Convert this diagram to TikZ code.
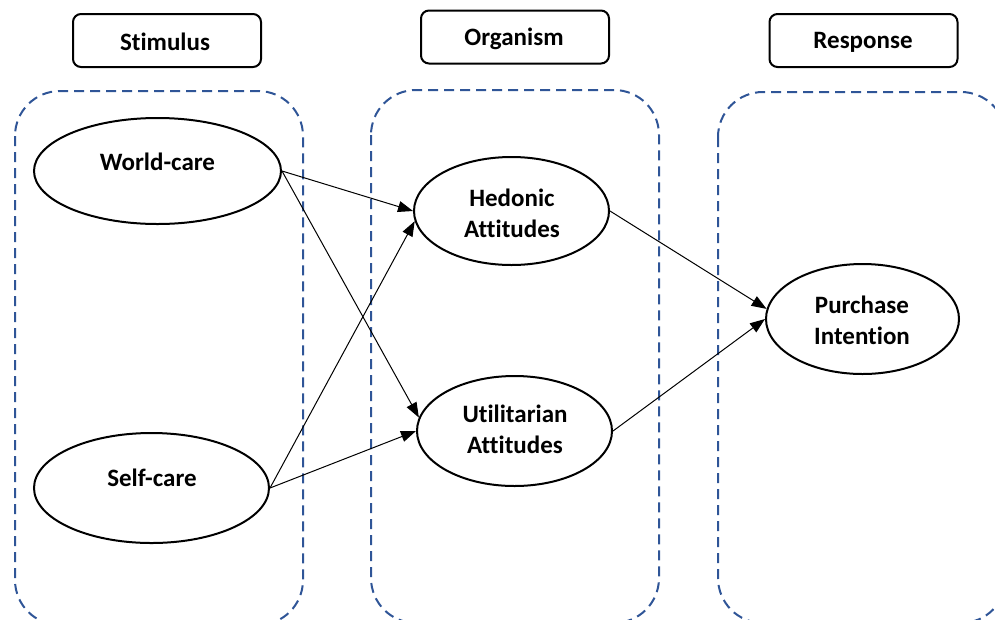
\documentclass[tikz,border=0pt]{standalone}
\usepackage{fontspec}
\setmainfont{Carlito}[Ligatures=NoCommon]
\usetikzlibrary{shapes.geometric,arrows.meta}
\definecolor{dashblue}{HTML}{2F5597}
\tikzset{
  lbl/.style={draw=black,line width=2pt,rounded corners=8pt,minimum width=188pt,minimum height=53pt,inner sep=0pt},
  grp/.style={draw=dashblue,line width=2pt,dash pattern=on 10pt off 6pt,rounded corners=45pt},
  ell/.style={draw=black,line width=2pt,ellipse,inner sep=0pt},
  txt/.style={font=\fontsize{25}{31}\selectfont\bfseries,align=center,inner sep=0pt},
  arr/.style={line width=1pt,-{Triangle[length=15pt,width=11pt]}},
}
\begin{document}
\begin{tikzpicture}[x=1pt,y=-1pt]
\useasboundingbox (0,0) rectangle (995,619);
\clip (0,0) rectangle (995,619);
% header boxes
\node[lbl] (stim) at (167,40.5) {};
\node[txt] (stimt) at (165,42) {Stimulus};
\node[lbl] (org) at (515,37) {};
\node[txt] (orgt) at (514,38.5) {Organism};
\node[lbl] (resp) at (863.5,40.5) {};
\node[txt] (respt) at (863,42) {Response};
% dashed groups
\draw[grp] (15,91) rectangle (303,625);
\draw[grp] (371,90) rectangle (659,623);
\draw[grp] (718,92) rectangle (1006,623);
% ellipses
\node[ell,minimum width=247pt,minimum height=106pt] (wc) at (157.5,171) {};
\node[txt] (wct) at (157.5,161.5) {World-care};
\node[ell,minimum width=235pt,minimum height=110pt] (sc) at (151.5,488) {};
\node[txt] (sct) at (152,478) {Self-care};
\node[ell,minimum width=195pt,minimum height=108pt] (hed) at (511.5,211) {};
\node[txt] (hedt) at (512,213) {Hedonic\\Attitudes};
\node[ell,minimum width=195pt,minimum height=110pt] (ut) at (514.5,431) {};
\node[txt] (utt) at (515,429) {Utilitarian\\Attitudes};
\node[ell,minimum width=193pt,minimum height=110pt] (pur) at (862.5,319) {};
\node[txt] (purt) at (862,320) {Purchase\\Intention};
% connectors
\draw[arr] (wc.east) -- (hed.west);
\draw[arr] (wc.east) -- (ut.172);
\draw[arr] (sc.east) -- (hed.186);
\draw[arr] (sc.east) -- (ut.west);
\draw[arr] (hed.east) -- (pur.174);
\draw[arr] (ut.east) -- (pur.west);
\end{tikzpicture}
\end{document}
